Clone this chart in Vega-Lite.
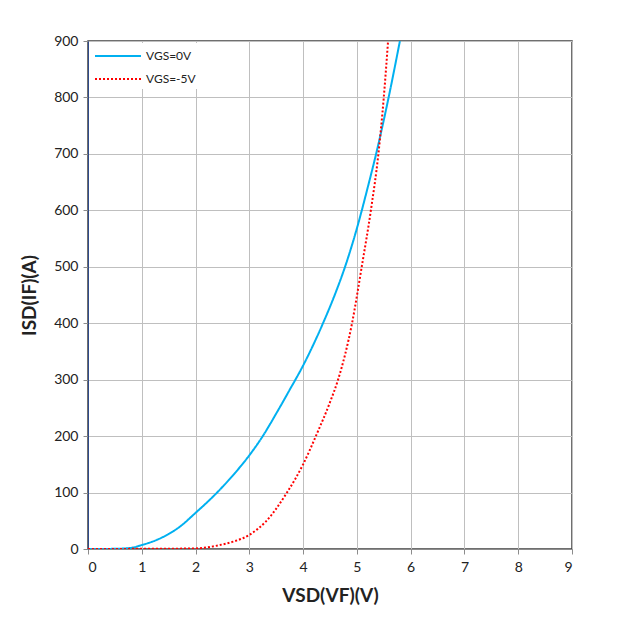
{
  "$schema": "https://vega.github.io/schema/vega-lite/v6.json",
  "width": 484,
  "height": 508,
  "autosize": {"type": "none"},
  "padding": {"left": 88, "top": 41, "right": 49, "bottom": 72},
  "background": "white",
  "config": {
    "font": "Lato",
    "view": {"stroke": "#404040", "strokeWidth": 1.5},
    "axis": {
      "labelFont": "Lato",
      "labelFontSize": 14,
      "labelColor": "#222",
      "titleFont": "Lato",
      "titleFontSize": 19,
      "titleFontWeight": "bold",
      "titleColor": "#222",
      "gridColor": "#BFBFBF",
      "gridWidth": 1,
      "tickSize": 5,
      "labelPadding": 5
    }
  },
  "data": {
    "values": [
      {"V": 0, "I": 0, "s": "VGS=0V"},
      {"V": 0.5, "I": 0.3, "s": "VGS=0V"},
      {"V": 0.8, "I": 2, "s": "VGS=0V"},
      {"V": 1.0, "I": 7, "s": "VGS=0V"},
      {"V": 1.3, "I": 17, "s": "VGS=0V"},
      {"V": 1.7, "I": 39, "s": "VGS=0V"},
      {"V": 2.0, "I": 64, "s": "VGS=0V"},
      {"V": 2.4, "I": 100, "s": "VGS=0V"},
      {"V": 2.7, "I": 131, "s": "VGS=0V"},
      {"V": 3.0, "I": 166, "s": "VGS=0V"},
      {"V": 3.25, "I": 200, "s": "VGS=0V"},
      {"V": 3.5, "I": 240, "s": "VGS=0V"},
      {"V": 3.75, "I": 282, "s": "VGS=0V"},
      {"V": 4.0, "I": 325, "s": "VGS=0V"},
      {"V": 4.37, "I": 400, "s": "VGS=0V"},
      {"V": 4.6, "I": 453, "s": "VGS=0V"},
      {"V": 4.78, "I": 500, "s": "VGS=0V"},
      {"V": 5.0, "I": 568, "s": "VGS=0V"},
      {"V": 5.2, "I": 640, "s": "VGS=0V"},
      {"V": 5.37, "I": 705, "s": "VGS=0V"},
      {"V": 5.59, "I": 800, "s": "VGS=0V"},
      {"V": 5.8, "I": 900, "s": "VGS=0V"},
      {"V": 0, "I": 0, "s": "VGS=-5V"},
      {"V": 1.0, "I": 0.3, "s": "VGS=-5V"},
      {"V": 1.5, "I": 0.5, "s": "VGS=-5V"},
      {"V": 2.0, "I": 1, "s": "VGS=-5V"},
      {"V": 2.45, "I": 7, "s": "VGS=-5V"},
      {"V": 2.7, "I": 13, "s": "VGS=-5V"},
      {"V": 3.0, "I": 25, "s": "VGS=-5V"},
      {"V": 3.3, "I": 48, "s": "VGS=-5V"},
      {"V": 3.7, "I": 100, "s": "VGS=-5V"},
      {"V": 4.0, "I": 150, "s": "VGS=-5V"},
      {"V": 4.26, "I": 205, "s": "VGS=-5V"},
      {"V": 4.5, "I": 260, "s": "VGS=-5V"},
      {"V": 4.65, "I": 300, "s": "VGS=-5V"},
      {"V": 4.91, "I": 400, "s": "VGS=-5V"},
      {"V": 5.09, "I": 500, "s": "VGS=-5V"},
      {"V": 5.26, "I": 600, "s": "VGS=-5V"},
      {"V": 5.4, "I": 700, "s": "VGS=-5V"},
      {"V": 5.5, "I": 800, "s": "VGS=-5V"},
      {"V": 5.58, "I": 900, "s": "VGS=-5V"}
    ]
  },
  "mark": {"type": "line", "interpolate": "monotone", "strokeWidth": 2, "clip": true},
  "encoding": {
    "x": {
      "field": "V", "type": "quantitative",
      "scale": {"domain": [0, 9], "nice": false},
      "axis": {"values": [0,1,2,3,4,5,6,7,8,9], "title": "VSD(VF)(V)", "titlePadding": 12, "domainColor": "#8C8C8C", "tickColor": "#8C8C8C", "labelPadding": 6}
    },
    "y": {
      "field": "I", "type": "quantitative",
      "scale": {"domain": [0, 900], "nice": false},
      "axis": {"values": [0,100,200,300,400,500,600,700,800,900], "title": "ISD(IF)(A)", "titlePadding": 14, "domainColor": "#2F4A8A", "tickColor": "#8C8C8C"}
    },
    "color": {
      "field": "s", "type": "nominal", "title": null,
      "scale": {"domain": ["VGS=0V", "VGS=-5V"], "range": ["#00B0F0", "#FF0000"]},
      "legend": {
        "orient": "none", "legendX": 17, "legendY": 2,
        "fillColor": "white", "padding": 4,
        "symbolType": "M-3,0H3", "symbolSize": 235, "symbolStrokeWidth": 2,
        "labelFontSize": 12, "labelColor": "#222", "labelOffset": 19, "rowPadding": 8
      }
    },
    "strokeDash": {
      "field": "s", "type": "nominal", "title": null,
      "scale": {"domain": ["VGS=0V", "VGS=-5V"], "range": [[1, 0], [2, 2]]},
      "legend": {
        "orient": "none", "legendX": 17, "legendY": 2,
        "fillColor": "white", "padding": 4,
        "symbolType": "M-3,0H3", "symbolSize": 235, "symbolStrokeWidth": 2,
        "labelFontSize": 12, "labelColor": "#222", "labelOffset": 19, "rowPadding": 8
      }
    }
  }
}
